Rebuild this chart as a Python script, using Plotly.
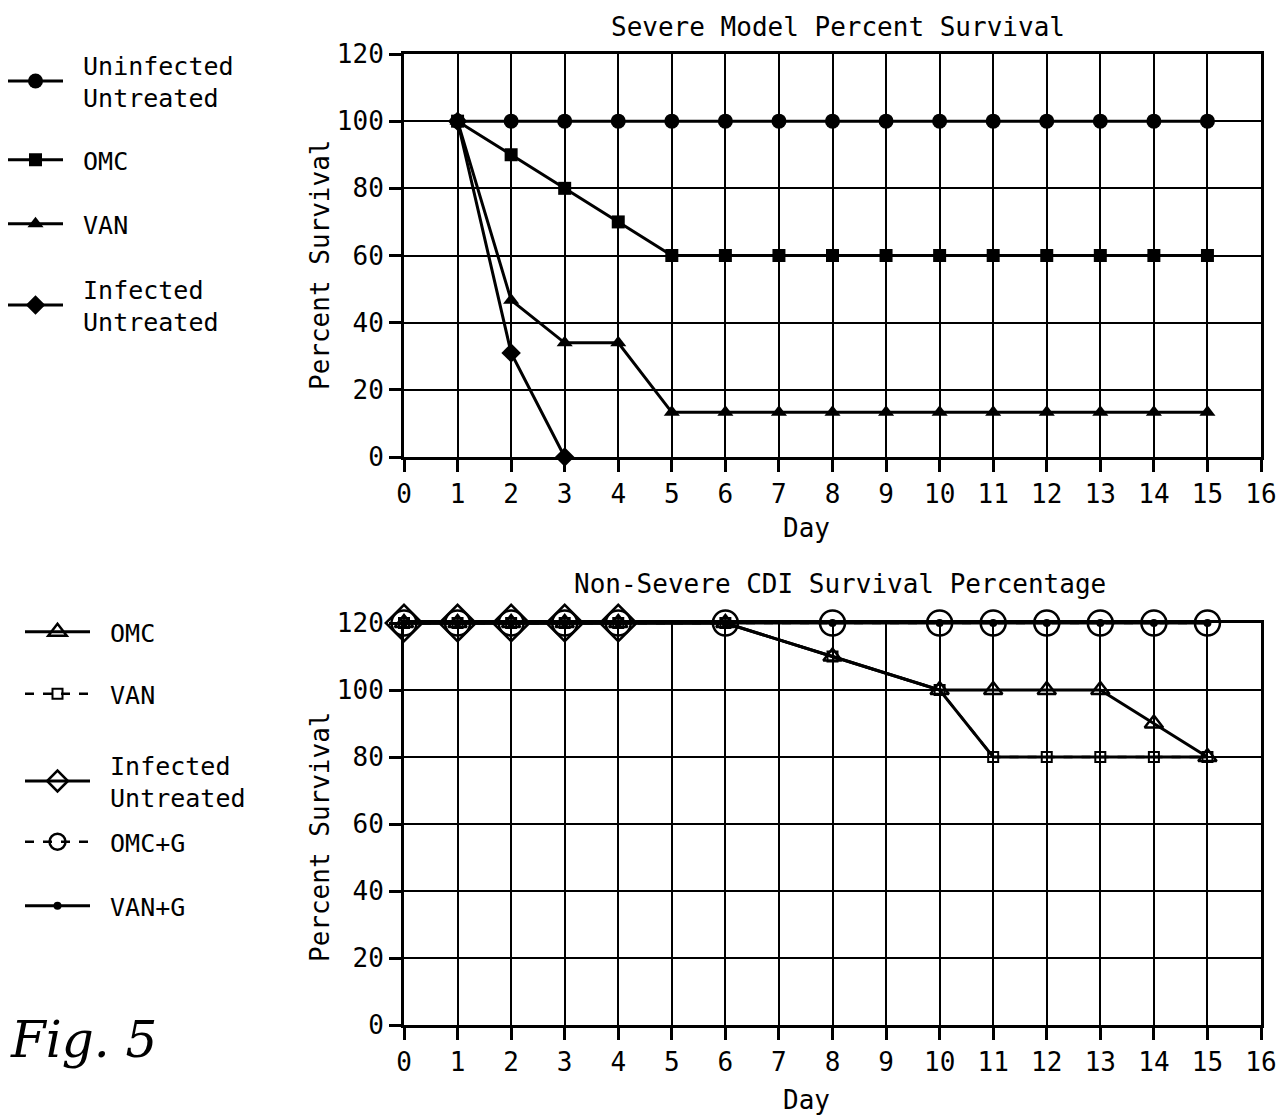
import plotly.graph_objects as go

W, H = 1282, 1119
FONT = "DejaVu Sans Mono"
SP = "\u00a0"

# ---- data: top chart (Severe Model) ----
days_top = [1, 2, 3, 4, 5, 6, 7, 8, 9, 10, 11, 12, 13, 14, 15]
uninfected_top = [100, 100, 100, 100, 100, 100, 100, 100, 100, 100, 100, 100, 100, 100, 100]
omc_top = [100, 90, 80, 70, 60, 60, 60, 60, 60, 60, 60, 60, 60, 60, 60]
van_top = [100, 46.7, 34, 34, 13.3, 13.3, 13.3, 13.3, 13.3, 13.3, 13.3, 13.3, 13.3, 13.3, 13.3]
days_inf_top = [1, 2, 3]
infected_top = [100, 31, 0]

# ---- data: bottom chart (Non-Severe CDI) ----
days_bot = [0, 1, 2, 3, 4, 6, 8, 10, 11, 12, 13, 14, 15]
omc_bot = [120, 120, 120, 120, 120, 120, 110, 100, 100, 100, 100, 90, 80]
van_bot = [120, 120, 120, 120, 120, 120, 110, 100, 80, 80, 80, 80, 80]
days_inf_bot = [0, 1, 2, 3, 4]
infected_bot = [120, 120, 120, 120, 120]
omcg_bot = [120, 120, 120, 120, 120, 120, 120, 120, 120, 120, 120, 120, 120]
vang_bot = [120, 120, 120, 120, 120, 120, 120, 120, 120, 120, 120, 120, 120]

x_ticks = list(range(0, 17))
y_ticks = [0, 20, 40, 60, 80, 100, 120]


def px_y(p):
    return 1 - p / H


def px_x(p):
    return p / W


def lname(*lines):
    return "<br>".join(SP + l for l in lines)


fig = go.Figure()
LW = 3

# top traces
top = [
    (lname("Uninfected", "Untreated"), days_top, uninfected_top, "circle", 15, "legend"),
    (lname("OMC"), days_top, omc_top, "square", 13, "legend2"),
    (lname("VAN"), days_top, van_top, "triangle-up", 14, "legend3"),
    (lname("Infected", "Untreated"), days_inf_top, infected_top, "diamond", 15, "legend4"),
]
for name, x, y, sym, sz, lg in top:
    fig.add_trace(go.Scatter(
        x=x, y=y, name=name, mode="lines+markers", xaxis="x", yaxis="y",
        line=dict(color="black", width=LW),
        marker=dict(symbol=sym, size=sz, color="black"),
        cliponaxis=False, legend=lg,
    ))

# bottom traces
fig.add_trace(go.Scatter(
    x=days_inf_bot, y=infected_bot, name=lname("Infected", "Untreated"), mode="lines+markers",
    xaxis="x2", yaxis="y2", line=dict(color="black", width=LW),
    marker=dict(symbol="diamond-open", size=28, color="black", line=dict(width=2.5, color="black")),
    cliponaxis=False, legend="legend7"))
fig.add_trace(go.Scatter(
    x=days_bot, y=omcg_bot, name=lname("OMC+G"), mode="lines+markers",
    xaxis="x2", yaxis="y2", line=dict(color="black", width=2.5, dash="dash"),
    marker=dict(symbol="circle-open", size=25, color="black", line=dict(width=2.5, color="black")),
    cliponaxis=False, legend="legend8"))
fig.add_trace(go.Scatter(
    x=days_bot, y=van_bot, name=lname("VAN"), mode="lines+markers",
    xaxis="x2", yaxis="y2", line=dict(color="black", width=2.5, dash="dash"),
    marker=dict(symbol="square-open", size=10, color="black", line=dict(width=2, color="black")),
    cliponaxis=False, legend="legend6"))
fig.add_trace(go.Scatter(
    x=days_bot, y=van_bot, name="VAN", mode="lines", showlegend=False,
    xaxis="x2", yaxis="y2", line=dict(color="black", width=LW),
    cliponaxis=False))
fig.add_trace(go.Scatter(
    x=days_bot, y=omc_bot, name=lname("OMC"), mode="lines+markers",
    xaxis="x2", yaxis="y2", line=dict(color="black", width=LW),
    marker=dict(symbol="triangle-up-open", size=16, color="black", line=dict(width=2.5, color="black")),
    cliponaxis=False, legend="legend5"))
fig.add_trace(go.Scatter(
    x=days_bot, y=vang_bot, name=lname("VAN+G"), mode="lines+markers",
    xaxis="x2", yaxis="y2", line=dict(color="black", width=LW),
    marker=dict(symbol="circle", size=8, color="black"),
    cliponaxis=False, legend="legend9"))

axis_common = dict(
    showgrid=True, gridcolor="black", gridwidth=2,
    showline=True, linecolor="black", linewidth=3, mirror=True,
    ticks="outside", ticklen=12, tickwidth=3, tickcolor="black",
    zeroline=False, tickfont=dict(family=FONT, size=26, color="black"),
    fixedrange=True, automargin=False,
)
xdom = [px_x(404), px_x(1261)]

leg_font = dict(family=FONT, size=25, color="black")


def leg(xp, yp, iw):
    return dict(x=px_x(xp), y=px_y(yp), xanchor="left", yanchor="middle",
                xref="paper", yref="paper", font=leg_font, bgcolor="rgba(0,0,0,0)",
                itemwidth=iw, borderwidth=0, itemclick=False, itemdoubleclick=False)


fig.update_layout(
    width=W, height=H, autosize=False,
    margin=dict(l=0, r=0, t=0, b=0, pad=0, autoexpand=False),
    paper_bgcolor="white", plot_bgcolor="white",
    xaxis=dict(domain=xdom, range=[0, 16], tickvals=x_ticks, anchor="y", **axis_common),
    yaxis=dict(domain=[px_y(457), px_y(54)], range=[0, 120], tickvals=y_ticks, anchor="x", **axis_common),
    xaxis2=dict(domain=xdom, range=[0, 16], tickvals=x_ticks, anchor="y2", **axis_common),
    yaxis2=dict(domain=[px_y(1025), px_y(623)], range=[0, 120], tickvals=y_ticks, anchor="x2", **axis_common),
    legend=leg(3, 81, 55),
    legend2=leg(3, 160, 55),
    legend3=leg(3, 224, 55),
    legend4=leg(3, 305, 55),
    legend5=leg(20, 632, 65),
    legend6=leg(20, 694, 65),
    legend7=leg(20, 781, 65),
    legend8=leg(20, 842, 65),
    legend9=leg(20, 906, 65),
    font=dict(family=FONT, color="black"),
)

ann = [
    dict(text="Severe Model Percent Survival", x=px_x(838), y=px_y(27), size=26, angle=0),
    dict(text="Non-Severe CDI Survival Percentage", x=px_x(840), y=px_y(584), size=26, angle=0),
    dict(text="Day", x=px_x(806), y=px_y(528), size=26, angle=0),
    dict(text="Day", x=px_x(806), y=px_y(1100), size=26, angle=0),
    dict(text="Percent Survival", x=px_x(320), y=px_y(265), size=26, angle=-90),
    dict(text="Percent Survival", x=px_x(320), y=px_y(837), size=26, angle=-90),
]
for a in ann:
    fig.add_annotation(text=a["text"], x=a["x"], y=a["y"], xref="paper", yref="paper",
                       xanchor="center", yanchor="middle", showarrow=False, textangle=a["angle"],
                       font=dict(family=FONT, size=a["size"], color="black"))

fig.add_annotation(text="<i>Fig. 5</i>", x=px_x(8), y=px_y(1040), xref="paper", yref="paper",
                   xanchor="left", yanchor="middle", showarrow=False,
                   font=dict(family="DejaVu Serif", size=50, color="black"))

fig.write_html("out.html", config={"displayModeBar": False})
